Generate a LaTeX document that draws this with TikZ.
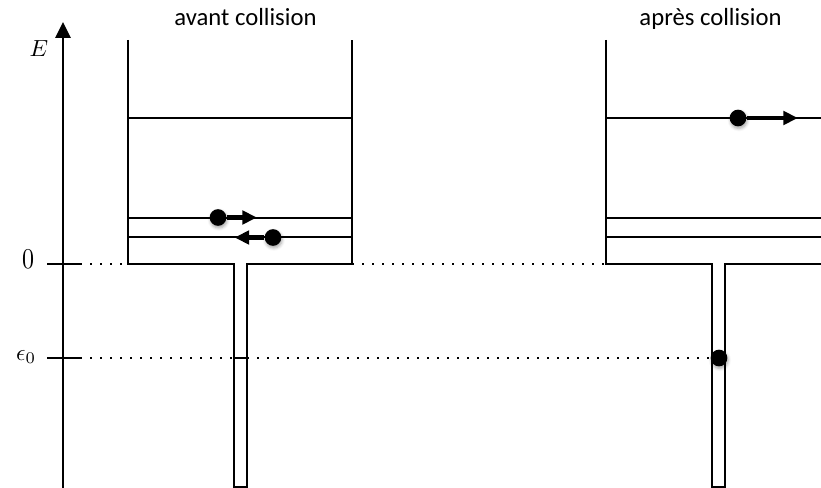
\documentclass[tikz,border=0pt]{standalone}
\usepackage{fontspec}
\newfontfamily\titlefont{Carlito}
\usetikzlibrary{arrows.meta,shadows.blur}
\begin{document}
\begin{tikzpicture}[x=0.75pt,y=-0.75pt,
  wall/.style={line width=1.5pt, line join=miter},
  level/.style={line width=0.9pt},
  guide/.style={line width=1.1pt, dash pattern=on 1.2pt off 6.3pt},
  particle/.style={circle, fill=black, inner sep=0pt, minimum size=12.5pt,
    blur shadow={shadow xshift=0.6pt, shadow yshift=-1.6pt, shadow blur radius=2.2pt, shadow opacity=35}},
  motion/.style={line width=3.4pt, -{Triangle[length=11pt,width=10pt]}},
  title/.style={font=\titlefont\fontsize{18.5}{22}\selectfont, anchor=base},
  lab/.style={font=\normalsize, scale=1.75, inner sep=0pt}
]
\useasboundingbox (0,0) rectangle (821,488);

% energy axis
\draw[line width=1.5pt, -{Triangle[length=12pt,width=11.5pt]}] (63,488) -- (63,22);
\draw[line width=1.5pt] (47,264) -- (80,264);
\draw[line width=1.5pt] (47,358) -- (80,358);
\node[lab] (E) at (39,49) {$E$};
\node[font=\normalsize, inner sep=0pt, xscale=1.8, yscale=2.15] (zero) at (28,259.5) {$0$};
\node[lab] (eps) at (26,357) {$\epsilon_0$};

% guide lines
\draw[guide] (80,264) -- (128,264);
\draw[guide] (352,264) -- (606,264);
\draw[guide] (80,358) -- (233,358);
\draw[guide] (247,358) -- (711,358);
\draw[line width=1pt] (233,358) -- (247,358);

% left well
\draw[wall] (128,40) -- (128,264) -- (233.5,264) -- (233.5,486.5) -- (246.5,486.5) -- (246.5,264) -- (352,264) -- (352,40);
\draw[level] (128,118) -- (352,118);
\draw[level] (128,218) -- (352,218);
\draw[level] (128,237) -- (352,237);

% right well
\draw[wall] (606,40) -- (606,264) -- (711.5,264) -- (711.5,486.5) -- (724.5,486.5) -- (724.5,264) -- (821,264);
\draw[level] (606,118) -- (821,118);
\draw[level] (606,218) -- (821,218);
\draw[level] (606,237) -- (821,237);

% titles
\node[title] (t1) at (245.5,26) {avant collision};
\node[title] (t2) at (710.5,26) {après collision};

% particles
\coordinate (p1end) at (257,217.5);
\coordinate (p2end) at (234.5,237.5);
\coordinate (p3end) at (798,118);
\node[particle] (p1) at (218,217.5) {};
\node[particle] (p2) at (273,237.5) {};
\node[particle] (p3) at (738,118) {};
\node[particle] (p4) at (719,358) {};
\draw[motion] (p1) -- (p1end);
\draw[motion] (p2) -- (p2end);
\draw[motion] (p3) -- (p3end);
\end{tikzpicture}
\end{document}
